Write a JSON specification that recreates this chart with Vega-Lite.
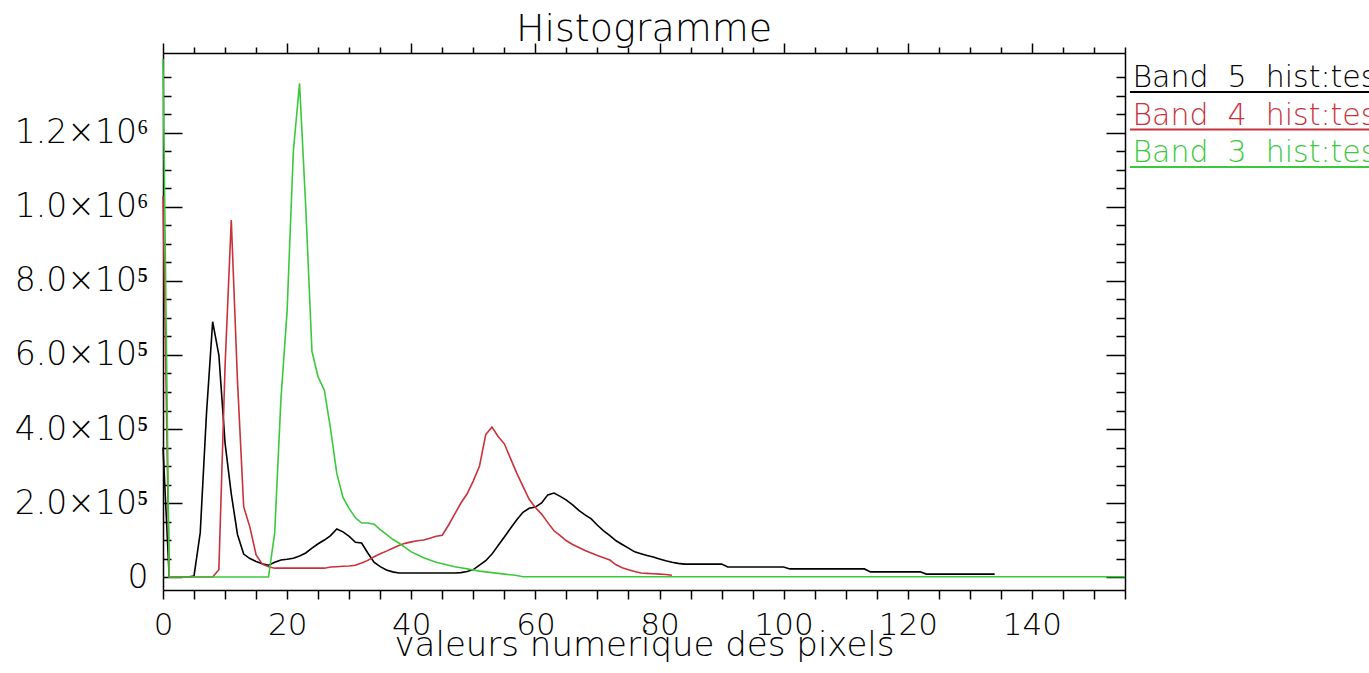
{
  "$schema": "https://vega.github.io/schema/vega-lite/v6.json",
  "background": "white",
  "padding": {"left": 14, "top": 11, "right": 0, "bottom": 0},
  "spacing": 0,
  "config": {
    "font": "DejaVu Sans",
    "view": {"stroke": null},
    "axis": {
      "domainColor": "black", "tickColor": "black", "labelColor": "black", "titleColor": "black",
      "domainWidth": 1.5, "tickWidth": 1.5, "grid": false,
      "labelFont": "DejaVu Sans", "labelFontWeight": 200, "labelFontSize": 30,
      "titleFont": "DejaVu Sans", "titleFontWeight": 200
    }
  },
  "datasets": {
    "b5": [
      {"v":0,"n":350000},{"v":1,"n":0},{"v":2,"n":0},{"v":3,"n":0},{"v":4,"n":0},{"v":5,"n":3000},{"v":6,"n":120000},{"v":7,"n":440000},{"v":8,"n":690000},{"v":9,"n":600000},
      {"v":10,"n":362000},{"v":11,"n":225000},{"v":12,"n":115000},{"v":13,"n":62000},{"v":14,"n":50000},{"v":15,"n":42000},{"v":16,"n":36000},{"v":17,"n":32000},{"v":18,"n":40000},{"v":19,"n":46000},
      {"v":20,"n":48000},{"v":21,"n":51000},{"v":22,"n":57000},{"v":23,"n":65000},{"v":24,"n":78000},{"v":25,"n":90000},{"v":26,"n":100000},{"v":27,"n":112000},{"v":28,"n":130000},{"v":29,"n":122000},
      {"v":30,"n":110000},{"v":31,"n":94000},{"v":32,"n":92000},{"v":33,"n":65000},{"v":34,"n":40000},{"v":35,"n":28000},{"v":36,"n":19000},{"v":37,"n":14000},{"v":38,"n":11000},{"v":39,"n":11000},
      {"v":40,"n":11000},{"v":41,"n":11000},{"v":42,"n":11000},{"v":43,"n":11000},{"v":44,"n":11000},{"v":45,"n":11000},{"v":46,"n":11000},{"v":47,"n":11000},{"v":48,"n":12000},{"v":49,"n":15000},
      {"v":50,"n":20000},{"v":51,"n":32000},{"v":52,"n":44000},{"v":53,"n":62000},{"v":54,"n":85000},{"v":55,"n":108000},{"v":56,"n":132000},{"v":57,"n":155000},{"v":58,"n":175000},{"v":59,"n":186000},
      {"v":60,"n":189000},{"v":61,"n":200000},{"v":62,"n":222000},{"v":63,"n":227000},{"v":64,"n":218000},{"v":65,"n":208000},{"v":66,"n":195000},{"v":67,"n":180000},{"v":68,"n":168000},{"v":69,"n":157000},
      {"v":70,"n":140000},{"v":71,"n":125000},{"v":72,"n":112000},{"v":73,"n":98000},{"v":74,"n":88000},{"v":75,"n":78000},{"v":76,"n":68000},{"v":77,"n":63000},{"v":78,"n":58000},{"v":79,"n":54000},
      {"v":80,"n":49000},{"v":81,"n":44000},{"v":82,"n":40000},{"v":83,"n":37000},{"v":84,"n":35000},{"v":85,"n":35000},{"v":86,"n":35000},{"v":87,"n":35000},{"v":88,"n":35000},{"v":89,"n":35000},
      {"v":90,"n":35000},{"v":91,"n":27000},{"v":92,"n":27000},{"v":93,"n":27000},{"v":94,"n":27000},{"v":95,"n":27000},{"v":96,"n":27000},{"v":97,"n":27000},{"v":98,"n":27000},{"v":99,"n":27000},
      {"v":100,"n":27000},{"v":101,"n":22000},{"v":102,"n":22000},{"v":103,"n":22000},{"v":104,"n":22000},{"v":105,"n":22000},{"v":106,"n":22000},{"v":107,"n":22000},{"v":108,"n":22000},{"v":109,"n":22000},
      {"v":110,"n":22000},{"v":111,"n":22000},{"v":112,"n":22000},{"v":113,"n":22000},{"v":114,"n":14000},{"v":115,"n":14000},{"v":116,"n":14000},{"v":117,"n":14000},{"v":118,"n":14000},{"v":119,"n":14000},
      {"v":120,"n":14000},{"v":121,"n":14000},{"v":122,"n":14000},{"v":123,"n":8000},{"v":124,"n":8000},{"v":125,"n":8000},{"v":126,"n":8000},{"v":127,"n":8000},{"v":128,"n":8000},{"v":129,"n":8000},
      {"v":130,"n":8000},{"v":131,"n":8000},{"v":132,"n":8000},{"v":133,"n":8000},{"v":134,"n":8000}
    ],
    "b4": [
      {"v":0,"n":1030000},{"v":1,"n":0},{"v":2,"n":0},{"v":3,"n":0},{"v":4,"n":0},{"v":5,"n":0},{"v":6,"n":0},{"v":7,"n":0},{"v":8,"n":0},{"v":9,"n":20000},
      {"v":10,"n":570000},{"v":11,"n":965000},{"v":12,"n":530000},{"v":13,"n":190000},{"v":14,"n":135000},{"v":15,"n":60000},{"v":16,"n":35000},{"v":17,"n":28000},{"v":18,"n":24000},{"v":19,"n":24000},
      {"v":20,"n":24000},{"v":21,"n":24000},{"v":22,"n":24000},{"v":23,"n":24000},{"v":24,"n":24000},{"v":25,"n":24000},{"v":26,"n":24000},{"v":27,"n":27000},{"v":28,"n":28000},{"v":29,"n":29000},
      {"v":30,"n":30000},{"v":31,"n":32000},{"v":32,"n":38000},{"v":33,"n":45000},{"v":34,"n":55000},{"v":35,"n":63000},{"v":36,"n":70000},{"v":37,"n":78000},{"v":38,"n":85000},{"v":39,"n":91000},
      {"v":40,"n":95000},{"v":41,"n":98000},{"v":42,"n":100000},{"v":43,"n":105000},{"v":44,"n":110000},{"v":45,"n":113000},{"v":46,"n":140000},{"v":47,"n":170000},{"v":48,"n":200000},{"v":49,"n":225000},
      {"v":50,"n":260000},{"v":51,"n":300000},{"v":52,"n":385000},{"v":53,"n":405000},{"v":54,"n":380000},{"v":55,"n":360000},{"v":56,"n":320000},{"v":57,"n":281000},{"v":58,"n":245000},{"v":59,"n":210000},
      {"v":60,"n":188000},{"v":61,"n":170000},{"v":62,"n":147000},{"v":63,"n":125000},{"v":64,"n":112000},{"v":65,"n":98000},{"v":66,"n":88000},{"v":67,"n":80000},{"v":68,"n":72000},{"v":69,"n":65000},
      {"v":70,"n":58000},{"v":71,"n":52000},{"v":72,"n":46000},{"v":73,"n":33000},{"v":74,"n":25000},{"v":75,"n":20000},{"v":76,"n":15000},{"v":77,"n":11000},{"v":78,"n":10000},{"v":79,"n":9000},
      {"v":80,"n":8000},{"v":81,"n":7000},{"v":82,"n":5000}
    ],
    "b3": [
      {"v":0,"n":1400000},{"v":1,"n":0},{"v":2,"n":0},{"v":3,"n":0},{"v":4,"n":0},{"v":5,"n":0},{"v":6,"n":0},{"v":7,"n":0},{"v":8,"n":0},{"v":9,"n":0},
      {"v":10,"n":0},{"v":11,"n":0},{"v":12,"n":0},{"v":13,"n":0},{"v":14,"n":0},{"v":15,"n":0},{"v":16,"n":0},{"v":17,"n":0},{"v":18,"n":120000},{"v":19,"n":480000},
      {"v":20,"n":720000},{"v":21,"n":1150000},{"v":22,"n":1334000},{"v":23,"n":1000000},{"v":24,"n":610000},{"v":25,"n":540000},{"v":26,"n":505000},{"v":27,"n":400000},{"v":28,"n":280000},{"v":29,"n":215000},
      {"v":30,"n":185000},{"v":31,"n":160000},{"v":32,"n":146000},{"v":33,"n":146000},{"v":34,"n":143000},{"v":35,"n":128000},{"v":36,"n":115000},{"v":37,"n":102000},{"v":38,"n":92000},{"v":39,"n":80000},
      {"v":40,"n":68000},{"v":41,"n":60000},{"v":42,"n":52000},{"v":43,"n":46000},{"v":44,"n":40000},{"v":45,"n":36000},{"v":46,"n":32000},{"v":47,"n":28000},{"v":48,"n":25000},{"v":49,"n":22000},
      {"v":50,"n":19000},{"v":51,"n":16000},{"v":52,"n":14000},{"v":53,"n":12000},{"v":54,"n":10000},{"v":55,"n":8000},{"v":56,"n":6000},{"v":57,"n":4000},{"v":58,"n":1000},{"v":59,"n":1000},
      {"v":60,"n":1000},{"v":61,"n":1000},{"v":62,"n":1000},{"v":63,"n":1000},{"v":64,"n":1000},{"v":65,"n":1000},{"v":66,"n":1000},{"v":67,"n":1000},{"v":68,"n":1000},{"v":69,"n":1000},
      {"v":70,"n":1000},{"v":71,"n":1000},{"v":72,"n":1000},{"v":73,"n":1000},{"v":74,"n":1000},{"v":75,"n":1000},{"v":76,"n":1000},{"v":77,"n":1000},{"v":78,"n":1000},{"v":79,"n":1000},
      {"v":80,"n":1000},{"v":81,"n":1000},{"v":82,"n":1000},{"v":83,"n":1000},{"v":84,"n":1000},{"v":85,"n":1000},{"v":86,"n":1000},{"v":87,"n":1000},{"v":88,"n":1000},{"v":89,"n":1000},
      {"v":90,"n":1000},{"v":91,"n":1000},{"v":92,"n":1000},{"v":93,"n":1000},{"v":94,"n":1000},{"v":95,"n":1000},{"v":96,"n":1000},{"v":97,"n":1000},{"v":98,"n":1000},{"v":99,"n":1000},
      {"v":100,"n":1000},{"v":101,"n":1000},{"v":102,"n":1000},{"v":103,"n":1000},{"v":104,"n":1000},{"v":105,"n":1000},{"v":106,"n":1000},{"v":107,"n":1000},{"v":108,"n":1000},{"v":109,"n":1000},
      {"v":110,"n":1000},{"v":111,"n":1000},{"v":112,"n":1000},{"v":113,"n":1000},{"v":114,"n":1000},{"v":115,"n":1000},{"v":116,"n":1000},{"v":117,"n":1000},{"v":118,"n":1000},{"v":119,"n":1000},
      {"v":120,"n":1000},{"v":121,"n":1000},{"v":122,"n":1000},{"v":123,"n":1000},{"v":124,"n":1000},{"v":125,"n":1000},{"v":126,"n":1000},{"v":127,"n":1000},{"v":128,"n":1000},{"v":129,"n":1000},
      {"v":130,"n":1000},{"v":131,"n":1000},{"v":132,"n":1000},{"v":133,"n":1000},{"v":134,"n":1000},{"v":135,"n":1000},{"v":136,"n":1000},{"v":137,"n":1000},{"v":138,"n":1000},{"v":139,"n":1000},
      {"v":140,"n":1000},{"v":141,"n":1000},{"v":142,"n":1000},{"v":143,"n":1000},{"v":144,"n":1000},{"v":145,"n":1000},{"v":146,"n":1000},{"v":147,"n":1000},{"v":148,"n":1000},{"v":149,"n":1000},
      {"v":150,"n":1000},{"v":151,"n":1000},{"v":152,"n":1000},{"v":153,"n":1000},{"v":154,"n":1000},{"v":155,"n":1000}
    ],
    "leg": [
      {"label": "Band\u00a0\u00a05\u00a0\u00a0hist:test"},
      {"label": "Band\u00a0\u00a04\u00a0\u00a0hist:test"},
      {"label": "Band\u00a0\u00a03\u00a0\u00a0hist:test"}
    ]
  },
  "hconcat": [
    {
      "title": {"text": "Histogramme", "fontSize": 38, "fontWeight": 200, "font": "DejaVu Sans", "anchor": "middle", "baseline": "alphabetic", "offset": -37, "color": "black"},
      "width": 962,
      "height": 537,
      "layer": [
        {
          "data": {"name": "b5"},
          "mark": {"type": "line", "color": "black", "strokeWidth": 1.6},
          "encoding": {
            "x": {"field": "v", "type": "quantitative",
              "scale": {"domain": [0, 155], "nice": false, "zero": false},
              "axis": {"orient": "bottom",
                "values": [0,5,10,15,20,25,30,35,40,45,50,55,60,65,70,75,80,85,90,95,100,105,110,115,120,125,130,135,140,145,150,155],
                "labelExpr": "datum.value % 20 === 0 ? format(datum.value, 'd') : ''",
                "tickSize": 9, "labelPadding": 11, "labelFontSize": 31, "labelFlush": false, "labelOverlap": false,
                "title": "valeurs numerique des pixels", "titleFontSize": 34, "titlePadding": -12}},
            "y": {"field": "n", "type": "quantitative",
              "scale": {"domain": [-35000, 1416000], "nice": false, "zero": false},
              "axis": {"orient": "left",
                "values": [0,50000,100000,150000,200000,250000,300000,350000,400000,450000,500000,550000,600000,650000,700000,750000,800000,850000,900000,950000,1000000,1050000,1100000,1150000,1200000,1250000,1300000,1350000],
                "labelExpr": "datum.value === 0 ? '0' : (datum.value % 200000 !== 0 ? '' : (datum.value >= 1000000 ? format(datum.value/1000000, '.1f') + '×10⁶' : format(datum.value/100000, '.1f') + '×10⁵'))",
                "tickSize": {"condition": {"test": "datum.value % 200000 === 0", "value": -19}, "value": -8},
                "labelPadding": 34, "labelFontSize": 33, "labelOverlap": false, "labelFlush": false, "title": null}}
          }
        },
        {
          "data": {"name": "b4"},
          "mark": {"type": "line", "color": "#c8323c", "strokeWidth": 1.6},
          "encoding": {
            "x": {"field": "v", "type": "quantitative",
              "axis": {"orient": "top",
                "values": [0,5,10,15,20,25,30,35,40,45,50,55,60,65,70,75,80,85,90,95,100,105,110,115,120,125,130,135,140,145,150,155],
                "labels": false, "title": null,
                "tickSize": {"condition": {"test": "datum.value % 20 === 0", "value": 10}, "value": 6}}},
            "y": {"field": "n", "type": "quantitative",
              "axis": {"orient": "right",
                "values": [0,50000,100000,150000,200000,250000,300000,350000,400000,450000,500000,550000,600000,650000,700000,750000,800000,850000,900000,950000,1000000,1050000,1100000,1150000,1200000,1250000,1300000,1350000],
                "labels": false, "title": null,
                "tickSize": {"condition": {"test": "datum.value % 200000 === 0", "value": -19}, "value": -9}}}
          }
        },
        {
          "data": {"name": "b3"},
          "mark": {"type": "line", "color": "#3cc83c", "strokeWidth": 1.6},
          "encoding": {
            "x": {"field": "v", "type": "quantitative", "axis": null},
            "y": {"field": "n", "type": "quantitative", "axis": null}
          }
        }
      ],
      "resolve": {"axis": {"x": "independent", "y": "independent"}}
    },
    {
      "width": 240,
      "height": 130,
      "data": {"name": "leg"},
      "encoding": {
        "y": {"field": "label", "type": "nominal", "axis": null,
          "scale": {"type": "point", "domain": ["Band\u00a0\u00a05\u00a0\u00a0hist:test", "Band\u00a0\u00a04\u00a0\u00a0hist:test", "Band\u00a0\u00a03\u00a0\u00a0hist:test"], "range": [39, 114], "padding": 0}},
        "color": {"field": "label", "type": "nominal", "legend": null,
          "scale": {"domain": ["Band\u00a0\u00a05\u00a0\u00a0hist:test", "Band\u00a0\u00a04\u00a0\u00a0hist:test", "Band\u00a0\u00a03\u00a0\u00a0hist:test"], "range": ["black", "#c8323c", "#3cc83c"]}}
      },
      "layer": [
        {"mark": {"type": "rule", "strokeWidth": 1.8}, "encoding": {}},
        {"mark": {"type": "text", "align": "left", "baseline": "alphabetic", "dy": -5, "fontSize": 30, "fontWeight": 200, "font": "DejaVu Sans"},
         "encoding": {
           "x": {"datum": 0.01, "type": "quantitative", "scale": {"domain": [0, 1]}, "axis": null},
           "text": {"field": "label"}
         }}
      ]
    }
  ]
}
